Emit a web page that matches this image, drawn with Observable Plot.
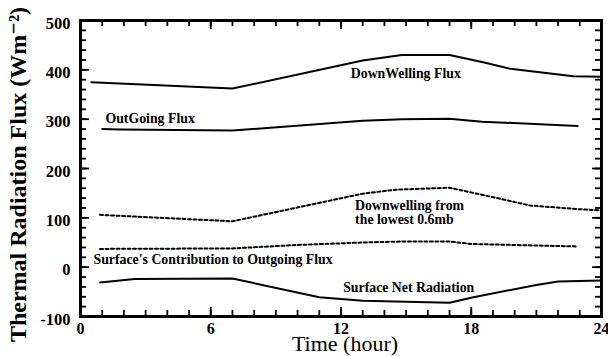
<!DOCTYPE html>
<html>
<head>
<meta charset="utf-8">
<script src="https://cdn.jsdelivr.net/npm/d3@7"></script>
<script src="https://cdn.jsdelivr.net/npm/@observablehq/plot@0.6"></script>
<style>
  html, body { margin: 0; padding: 0; background: #fff; }
  #chart svg { display: block; }
</style>
</head>
<body>
<div id="chart"></div>
<script>
// Series (hour, W m^-2)
const downwellingHour = [0.5, 7, 13, 14.8, 17, 18.6, 19.8, 22.7, 24];
const downwellingFlux = [375, 362, 419, 430, 430, 415, 402, 387, 386];

const outgoingHour = [1, 1.8, 7, 13, 14.8, 17, 18.5, 22.9];
const outgoingFlux = [280, 279, 277, 297, 300, 301, 295, 286];

const lowestHour = [0.9, 7, 13, 14.5, 17, 19.3, 20.7, 22.8, 24];
const lowestFlux = [106, 93, 149, 157, 161, 139, 125, 118, 115];

const surfaceHour = [0.9, 7, 10, 13, 14.8, 17, 18, 22.9];
const surfaceFlux = [37, 38, 45, 50, 52, 52, 47, 42];

const netHour = [0.9, 2.5, 7, 11, 13, 17, 18.1, 21, 22, 24];
const netFlux = [-31, -24, -23, -61, -68, -72, -61, -36, -29, -27];

// Tick values
const xMajorTicks = [0, 6, 12, 18, 24];
const xMinorTicks = d3.range(0, 25, 1);
const yMajorTicks = [-100, 0, 100, 200, 300, 400, 500];
const yMinorTicks = d3.range(-100, 501, 20);

// Annotation labels
const labelText = ["DownWelling Flux", "OutGoing Flux", "Downwelling from\nthe lowest 0.6mb",
                   "Surface's Contribution to Outgoing Flux", "Surface Net Radiation"];
const labelHour = [12.45, 1.15, 12.65, 0.6, 12.1];
const labelFlux = [392, 301, 110, 15, -42];

const xTitle = "Time (hour)";
const yTitle = "Thermal Radiation Flux (Wm\u207B\u00B2)";

const toRows = (xs, ys) => xs.map((x, i) => ({x, y: ys[i]}));
const labels = labelText.map((t, i) => ({t, x: labelHour[i], y: labelFlux[i]}));

const serif = "'Liberation Serif', 'DejaVu Serif', serif";

const W = 608, H = 356, mL = 80, mR = 7, mT = 20, mB = 40;
const fw = W - mL - mR, fh = H - mT - mB;
const tickStyle = {stroke: "#000", strokeWidth: 1.8};
const inwardX = (ticks, len) => [
  Plot.tickX(ticks, {x: d => d, insetTop: fh - len, ...tickStyle}),
  Plot.tickX(ticks, {x: d => d, insetBottom: fh - len, ...tickStyle})
];
const inwardY = (ticks, len) => [
  Plot.tickY(ticks, {y: d => d, insetRight: fw - len, ...tickStyle}),
  Plot.tickY(ticks, {y: d => d, insetLeft: fw - len, ...tickStyle})
];

const chart = Plot.plot({
  width: W,
  height: H,
  marginLeft: mL,
  marginRight: mR,
  marginTop: mT,
  marginBottom: mB,
  style: {fontFamily: serif, background: "#fff", color: "#000"},
  x: {domain: [0, 24]},
  y: {domain: [-100, 500]},
  marks: [
    ...inwardX(xMinorTicks, 6),
    ...inwardX(xMajorTicks, 9),
    ...inwardY(yMinorTicks, 6),
    ...inwardY(yMajorTicks, 9),
    // tick labels
    Plot.axisX(xMajorTicks, {anchor: "bottom", tickSize: 0, tickPadding: 6, tickFormat: d => String(d),
      fontSize: 16, fontWeight: "bold", label: null}),
    Plot.axisY(yMajorTicks, {anchor: "left", tickSize: 0, tickPadding: 10, dy: 3, tickFormat: d => String(d),
      fontSize: 16.5, fontWeight: "bold", label: null}),
    // series
    Plot.line(toRows(downwellingHour, downwellingFlux), {x: "x", y: "y", stroke: "#000", strokeWidth: 2}),
    Plot.line(toRows(outgoingHour, outgoingFlux), {x: "x", y: "y", stroke: "#000", strokeWidth: 2}),
    Plot.line(toRows(lowestHour, lowestFlux), {x: "x", y: "y", stroke: "#000", strokeWidth: 2, strokeDasharray: "3,2.5"}),
    Plot.line(toRows(surfaceHour, surfaceFlux), {x: "x", y: "y", stroke: "#000", strokeWidth: 2, strokeDasharray: "3,2.5"}),
    Plot.line(toRows(netHour, netFlux), {x: "x", y: "y", stroke: "#000", strokeWidth: 2}),
    // annotations
    Plot.text(labels, {x: "x", y: "y", text: "t", textAnchor: "start", fontSize: 13.8, fontWeight: "bold",
      lineHeight: 1.0, fill: "#000"}),
    // titles
    Plot.text([xTitle], {frameAnchor: "bottom", textAnchor: "middle", lineAnchor: "bottom", dx: 4, dy: 34, fontSize: 22, fill: "#000"}),
    Plot.text([yTitle], {frameAnchor: "left", textAnchor: "middle", lineAnchor: "middle", rotate: -90, dx: -62, dy: 6,
      fontSize: 24, fontWeight: "bold", fill: "#000"}),
    Plot.frame({stroke: "#000", strokeWidth: 3})
  ]
});
document.getElementById("chart").appendChild(chart);
</script>
</body>
</html>
